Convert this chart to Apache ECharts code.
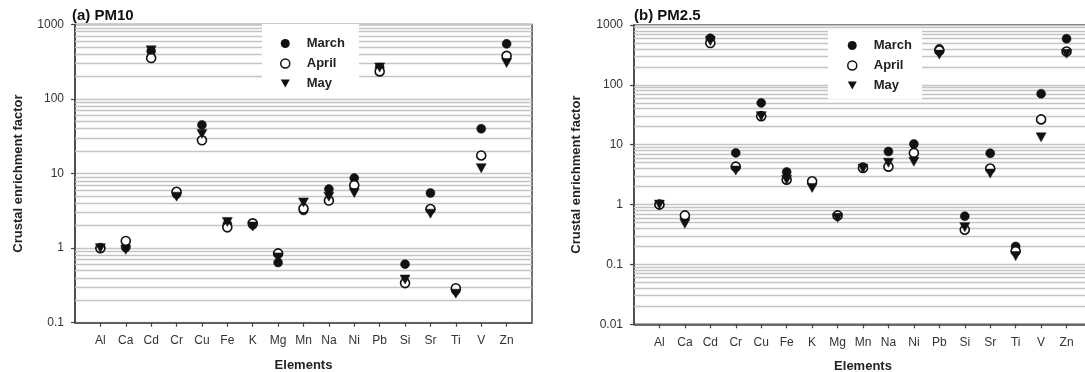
<!DOCTYPE html>
<html>
<head>
<meta charset="utf-8">
<script src="https://cdn.jsdelivr.net/npm/echarts@6/dist/echarts.min.js"></script>
<style>
  html, body { margin: 0; padding: 0; background: #fff; }
  #chart { width: 1085px; height: 372px; }
</style>
</head>
<body>
<div id="chart"></div>
<script>
// 元素 / elements on the x axis
var elements = ['Al', 'Ca', 'Cd', 'Cr', 'Cu', 'Fe', 'K', 'Mg', 'Mn', 'Na', 'Ni', 'Pb', 'Si', 'Sr', 'Ti', 'V', 'Zn']

// (a) PM10
var pm10March = [1.0, 1.02, 440, 5.3, 45, 2.1, 2.05, 0.64, 3.2, 6.2, 8.7, 265, 0.61, 5.5, 0.27, 40, 550]
var pm10April = [1.0, 1.25, 355, 5.7, 28, 1.9, 2.15, 0.85, 3.4, 4.35, 7.0, 235, 0.34, 3.35, 0.29, 17.5, 380]
var pm10May = [1.0, 0.95, 450, 4.9, 34, 2.25, 1.95, 0.75, 4.1, 4.9, 5.5, 265, 0.38, 2.9, 0.245, 11.8, 305]

// (b) PM2.5
var pm25March = [1.0, 0.63, 600, 7.3, 50, 3.5, 2.3, 0.65, 4.2, 7.7, 10.3, 400, 0.64, 7.2, 0.2, 71, 590]
var pm25April = [1.0, 0.66, 500, 4.3, 30, 2.6, 2.45, 0.66, 4.1, 4.3, 7.3, 375, 0.38, 4.0, 0.167, 26.5, 360]
var pm25May = [1.0, 0.48, 540, 3.7, 30, 2.6, 1.9, 0.6, 4.0, 5.0, 5.2, 320, 0.42, 3.3, 0.138, 13.3, 330]

// minor grid lines (2..9 of each decade)
var minorMults = [2, 3, 4, 5, 6, 7, 8, 9]
var pm10Decades = [0.1, 1, 10, 100]
var pm25Decades = [0.01, 0.1, 1, 10, 100]

var FONT = 'Liberation Sans, Arial, sans-serif'
var triDown = 'path://M0,0 L10,0 L5,9 Z'

function minorLines(decades) {
  var out = []
  decades.forEach(function (d) {
    minorMults.forEach(function (m) {
      out.push({ yAxis: +(d * m).toPrecision(3) })
    })
  })
  return out
}

// x轴用空白两端的类目，刻度放在中间
var xCats = [' '].concat(elements).concat(['  '])

function xAxisOf(idx) {
  return {
    type: 'category',
    gridIndex: idx,
    data: xCats,
    boundaryGap: false,
    name: 'Elements',
    nameLocation: 'middle',
    nameGap: 36,
    nameTextStyle: { fontFamily: FONT, fontWeight: 'bold', fontSize: 13, color: '#222' },
    axisLine: { show: true, lineStyle: { color: '#444', width: 1.5 } },
    axisTick: {
      show: true,
      length: 4,
      lineStyle: { color: '#444', width: 1.2 },
      interval: function (i) { return i > 0 && i < xCats.length - 1 }
    },
    axisLabel: {
      interval: 0,
      margin: 12,
      fontFamily: FONT,
      fontSize: 12,
      color: '#333'
    },
    splitLine: { show: false }
  }
}

function yAxisOf(idx, min, nameGap) {
  return {
    type: 'log',
    gridIndex: idx,
    logBase: 10,
    min: min,
    max: 1000,
    name: 'Crustal enrichment factor',
    nameLocation: 'middle',
    nameGap: nameGap,
    nameTextStyle: { fontFamily: FONT, fontWeight: 'bold', fontSize: 13, color: '#222' },
    axisLine: { show: true, lineStyle: { color: '#444', width: 1.5 } },
    axisTick: { show: true, length: 4, lineStyle: { color: '#444', width: 1.2 } },
    axisLabel: {
      margin: 11,
      fontFamily: FONT,
      fontSize: 12,
      color: '#333',
      formatter: function (v) { return String(+v.toPrecision(3)) }
    },
    splitLine: { show: true, lineStyle: { color: '#c4c4c4', width: 1.3 } },
    minorTick: { show: false },
    minorSplitLine: { show: false }
  }
}

function seriesOf(idx, name, vals, symbol, filled, lines) {
  var s = {
    name: name,
    type: 'scatter',
    xAxisIndex: idx,
    yAxisIndex: idx,
    symbol: symbol,
    symbolSize: symbol === triDown ? [10, 9] : 9,
    itemStyle: filled
      ? { color: '#111', borderColor: '#111', borderWidth: 0.5, opacity: 1 }
      : { color: '#fff', borderColor: '#111', borderWidth: 1.6, opacity: 1 },
    data: elements.map(function (e, i) { return [e, vals[i]] }),
    z: 3
  }
  if (lines) {
    s.markLine = {
      silent: true,
      symbol: 'none',
      label: { show: false },
      lineStyle: { type: 'solid', color: '#c4c4c4', width: 1.3 },
      data: lines,
      z: 1
    }
  }
  return s
}

function legendOf(left, top, padding) {
  return {
    orient: 'vertical',
    left: left,
    top: top,
    padding: padding,
    backgroundColor: '#fff',
    itemWidth: 9,
    itemHeight: 9,
    itemGap: 7,
    z: 10,
    selectedMode: false,
    textStyle: { fontFamily: FONT, fontWeight: 'bold', fontSize: 13, color: '#222', padding: [0, 0, 0, 12] },
    data: [
      { name: 'March', icon: 'circle', itemStyle: { color: '#111', borderWidth: 0 } },
      { name: 'April', icon: 'circle', itemStyle: { color: '#fff', borderColor: '#111', borderWidth: 1.5 } },
      { name: 'May', icon: triDown, itemStyle: { color: '#111', borderWidth: 0 } }
    ]
  }
}

var option = {
  animation: false,
  backgroundColor: '#fff',
  title: [
    { text: '(a) PM10', left: 72, top: 8, padding: 0, textStyle: { fontFamily: FONT, fontWeight: 'bold', fontSize: 15, color: '#111' } },
    { text: '(b) PM2.5', left: 634, top: 8, padding: 0, textStyle: { fontFamily: FONT, fontWeight: 'bold', fontSize: 15, color: '#111' } }
  ],
  legend: [
    legendOf(262, 24, [13, 14, 1, 18]),
    legendOf(828, 30, [9, 10, 7, 19])
  ],
  grid: [
    { left: 75, right: 553, top: 24.5, bottom: 49.3, outerBoundsMode: 'none', containLabel: false, show: true, borderColor: '#444', borderWidth: 1.5, backgroundColor: 'transparent' },
    { left: 634, right: -7, top: 25, bottom: 47.7, outerBoundsMode: 'none', containLabel: false, show: true, borderColor: '#444', borderWidth: 1.5, backgroundColor: 'transparent' }
  ],
  xAxis: [xAxisOf(0), xAxisOf(1)],
  yAxis: [yAxisOf(0, 0.1, 50), yAxisOf(1, 0.01, 51)],
  series: [
    seriesOf(0, 'March', pm10March, 'circle', true, minorLines(pm10Decades)),
    seriesOf(0, 'April', pm10April, 'circle', false),
    seriesOf(0, 'May', pm10May, triDown, true),
    seriesOf(1, 'March', pm25March, 'circle', true, minorLines(pm25Decades)),
    seriesOf(1, 'April', pm25April, 'circle', false),
    seriesOf(1, 'May', pm25May, triDown, true)
  ]
}

var myChart = echarts.init(document.getElementById('chart'))
myChart.setOption(option)
</script>
</body>
</html>
